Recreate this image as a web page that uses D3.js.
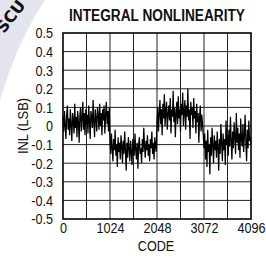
<!DOCTYPE HTML>
<html lang="en">

    <head>
        <meta charset="utf-8" />
        <title>Integral Nonlinearity</title>
        <style>
            body { margin: 0; background: #fff; }
            text { font-family: "Liberation Sans", Arial, sans-serif; fill: #111; }
        </style>
    </head>

    <body>
        <div id="chart"></div>
        <script type="text/javascript" src="https://d3js.org/d3.v7.min.js"></script>
        <script>
            // INL in LSB, one reading every 16 codes, one array per quarter of the range
            const codeStep = 16;
            const inlQ1 = [
                0.05, -0.03, 0.08, 0.00, -0.07, 0.06, 0.11, -0.02, 0.04, -0.05, 0.09, 0.01, -0.08, 0.07, 0.03, -0.04,
                0.12, -0.01, 0.05, -0.06, 0.08, 0.02, -0.09, 0.06, 0.10, -0.03, 0.04, 0.13, -0.02, 0.07, -0.05, 0.09,
                0.01, 0.06, -0.04, 0.11, 0.03, -0.07, 0.08, 0.05, -0.01, 0.14, 0.02, -0.06, 0.09, 0.04, -0.03, 0.10,
                0.06, -0.02, 0.12, 0.00, 0.07, -0.05, 0.09, 0.03, 0.11, -0.04, 0.06, 0.13, 0.01, 0.08, -0.03, 0.10
            ];
            const inlQ2 = [
                -0.08, -0.15, -0.04, -0.12, -0.19, -0.07, -0.13, -0.02, -0.16, -0.10, -0.22, -0.06, -0.14, -0.09, -0.18, -0.05,
                -0.11, -0.20, -0.08, -0.15, -0.03, -0.13, -0.24, -0.09, -0.17, -0.06, -0.12, -0.19, -0.08, -0.14, -0.21, -0.07,
                -0.11, -0.16, -0.04, -0.13, -0.18, -0.09, -0.23, -0.10, -0.06, -0.15, -0.12, -0.20, -0.07, -0.14, -0.01, -0.11,
                -0.17, -0.08, -0.13, -0.05, -0.16, -0.10, -0.19, -0.07, -0.12, -0.03, -0.15, -0.09, -0.18, -0.06, -0.11, -0.14
            ];
            const inlQ3 = [
                0.02, 0.10, -0.03, 0.07, 0.14, 0.01, 0.09, -0.05, 0.12, 0.04, 0.17, 0.00, 0.08, 0.13, -0.02, 0.06,
                0.11, 0.03, 0.15, -0.04, 0.09, 0.05, 0.19, 0.02, 0.10, -0.06, 0.07, 0.13, 0.01, 0.16, 0.04, 0.09,
                -0.03, 0.12, 0.06, 0.18, 0.00, 0.08, 0.14, -0.02, 0.11, 0.05, 0.20, 0.03, 0.09, -0.07, 0.13, 0.06,
                0.10, -0.01, 0.15, 0.04, 0.08, -0.04, 0.12, 0.02, 0.07, -0.09, 0.05, 0.11, -0.03, 0.06, 0.01, -0.05
            ];
            const inlQ4 = [
                -0.12, -0.04, -0.18, -0.08, -0.22, -0.02, -0.14, -0.10, -0.26, -0.06, -0.16, -0.01, -0.11, -0.20, -0.05, -0.13,
                -0.08, -0.17, -0.03, -0.12, -0.24, -0.07, -0.15, 0.01, -0.09, -0.19, -0.04, -0.13, -0.07, -0.21, 0.03, -0.10,
                -0.05, -0.16, -0.02, -0.11, 0.05, -0.08, -0.18, -0.03, -0.12, 0.02, -0.06, -0.15, 0.07, -0.09, -0.01, -0.13,
                -0.04, -0.17, 0.04, -0.07, -0.11, 0.01, -0.14, -0.05, 0.06, -0.09, -0.19, -0.02, -0.12, 0.03, -0.08, -0.06, -0.10
            ];
            const xTicks = [0, 1024, 2048, 3072, 4096];
            const xGrid = [512, 1024, 1536, 2048, 2560, 3072, 3584];
            const yTicks = [0.5, 0.4, 0.3, 0.2, 0.1, 0, -0.1, -0.2, -0.3, -0.4, -0.5];

            const width = 266;
            const height = 258;
            const plot = { left: 63, right: 251, top: 33, bottom: 219 };

            const x = d3.scaleLinear().domain([0, 4096]).range([plot.left, plot.right]);
            const y = d3.scaleLinear().domain([-0.5, 0.5]).range([plot.bottom, plot.top]);

            // squeeze text horizontally, the datasheet uses a narrow face
            function condense(sel, k) {
                sel.each(function () {
                    const w = this.getComputedTextLength();
                    d3.select(this)
                        .attr('textLength', w * k)
                        .attr('lengthAdjust', 'spacingAndGlyphs');
                });
            }

            const svg = d3.select('#chart')
                .append('svg')
                .attr('width', width)
                .attr('height', height);

            // faint stamp in the top-left corner
            svg.append('path')
                .attr('d', 'M0,0 L45,0 Q18,40 0,100 Z')
                .attr('fill', '#e4e4ee');
            svg.append('text')
                .attr('transform', 'translate(4,34) rotate(-52)')
                .style('font-family', '"DejaVu Sans", sans-serif')
                .style('font-weight', 'bold')
                .style('font-size', '16px')
                .text('SCU');

            // grid
            svg.append('g')
                .selectAll('line')
                .data(xGrid)
                .enter()
                .append('line')
                .attr('x1', d => x(d))
                .attr('x2', d => x(d))
                .attr('y1', plot.top)
                .attr('y2', plot.bottom)
                .attr('stroke', '#222')
                .attr('stroke-width', 1);

            svg.append('g')
                .selectAll('line')
                .data(yTicks.slice(1, -1))
                .enter()
                .append('line')
                .attr('x1', plot.left)
                .attr('x2', plot.right)
                .attr('y1', d => y(d))
                .attr('y2', d => y(d))
                .attr('stroke', '#222')
                .attr('stroke-width', 1);

            // trace
            const inl = inlQ1.concat(inlQ2, inlQ3, inlQ4);
            const line = d3.line()
                .x((d, i) => x(i * codeStep))
                .y(d => y(d));

            svg.append('path')
                .datum(inl)
                .attr('d', line)
                .attr('fill', 'none')
                .attr('stroke', '#000')
                .attr('stroke-width', 1.25);

            // frame
            svg.append('rect')
                .attr('x', plot.left)
                .attr('y', plot.top)
                .attr('width', plot.right - plot.left)
                .attr('height', plot.bottom - plot.top)
                .attr('fill', 'none')
                .attr('stroke', '#000')
                .attr('stroke-width', 1.6);

            // axes labels
            const xAxis = d3.axisBottom(x)
                .tickValues(xTicks)
                .tickSize(0)
                .tickPadding(3)
                .tickFormat(d3.format('d'));
            const gx = svg.append('g')
                .attr('transform', `translate(0, ${plot.bottom})`)
                .call(xAxis);
            gx.select('.domain').remove();
            gx.selectAll('text')
                .style('font-size', '15px')
                .attr('fill', '#111')
                .call(condense, 0.84);

            const yAxis = d3.axisLeft(y)
                .tickValues(yTicks)
                .tickSize(0)
                .tickPadding(10)
                .tickFormat(d => d === 0 ? '0' : d.toFixed(1));
            const gy = svg.append('g')
                .attr('transform', `translate(${plot.left}, 0)`)
                .call(yAxis);
            gy.select('.domain').remove();
            gy.selectAll('text')
                .style('font-size', '15px')
                .attr('fill', '#111')
                .call(condense, 0.84);

            svg.append('text')
                .attr('x', (plot.left + plot.right) / 2)
                .attr('y', 21)
                .attr('text-anchor', 'middle')
                .attr('textLength', 176)
                .attr('lengthAdjust', 'spacingAndGlyphs')
                .style('font-weight', 'bold')
                .style('font-size', '16px')
                .text('INTEGRAL NONLINEARITY');

            svg.append('text')
                .attr('x', (plot.left + plot.right) / 2 - 1)
                .attr('y', 251)
                .attr('text-anchor', 'middle')
                .style('font-size', '15px')
                .text('CODE')
                .call(condense, 0.84);

            svg.append('text')
                .attr('transform', `translate(28, ${(plot.top + plot.bottom) / 2}) rotate(-90)`)
                .attr('text-anchor', 'middle')
                .style('font-size', '15px')
                .text('INL (LSB)')
                .call(condense, 0.86);
        </script>
    </body>

</html>
